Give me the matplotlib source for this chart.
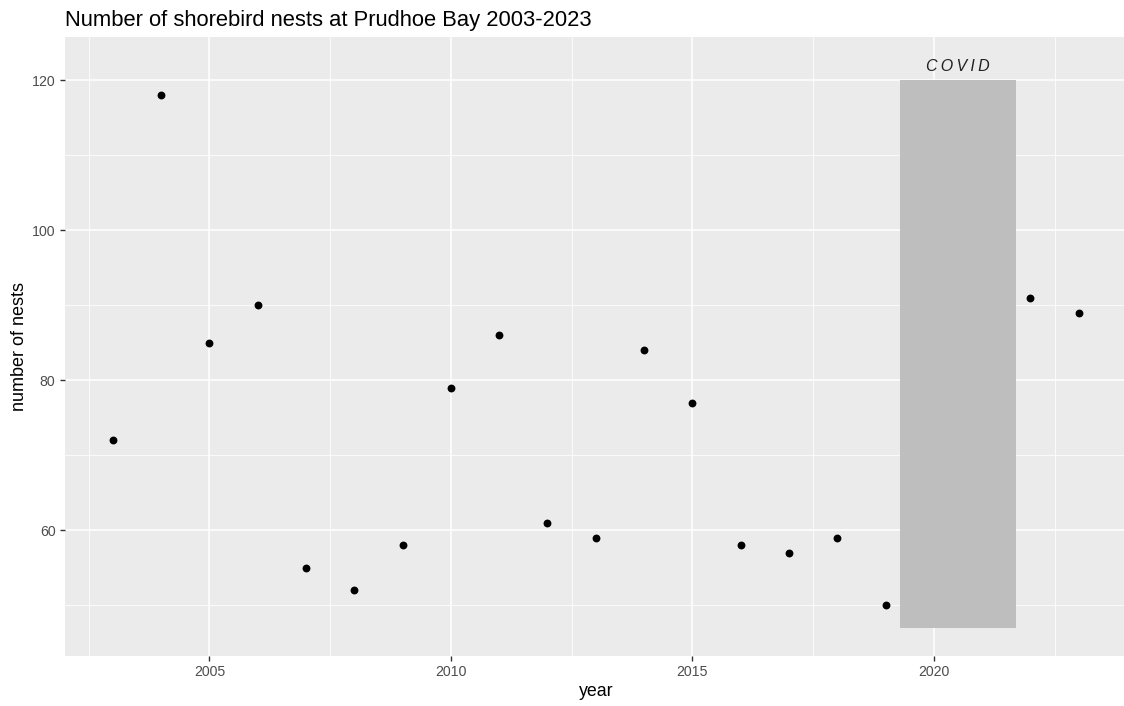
import matplotlib
matplotlib.use("Agg")
import matplotlib.pyplot as plt
from matplotlib.ticker import MultipleLocator

plt.rcParams['font.family'] = ['Liberation Sans', 'DejaVu Sans']

# nests per year (no survey 2020-2021)
years = [2003, 2004, 2005, 2006, 2007, 2008, 2009, 2010, 2011, 2012,
         2013, 2014, 2015, 2016, 2017, 2018, 2019, 2022, 2023]
nests = [72, 118, 85, 90, 55, 52, 58, 79, 86, 61,
         59, 84, 77, 58, 57, 59, 50, 91, 89]

# covid gap shading
covid_x = [2019.3, 2021.7]
covid_y = [47, 120]
covid_label = "COVID"

fig = plt.figure(figsize=(11.24, 7.06), dpi=100)
# panel runs slightly past the right edge, like the cropped original
ax = fig.add_axes([0.0574, 0.0708, 0.9453, 0.8768])
ax.set_facecolor('#EBEBEB')

ax.xaxis.set_major_locator(MultipleLocator(5))
ax.xaxis.set_minor_locator(MultipleLocator(2.5))
ax.yaxis.set_major_locator(MultipleLocator(20))
ax.yaxis.set_minor_locator(MultipleLocator(10))
ax.grid(which='major', color='white', linewidth=1.1)
ax.grid(which='minor', color='white', linewidth=0.55)
ax.set_axisbelow(True)
for s in ax.spines.values():
    s.set_visible(False)

ax.fill_between(covid_x, covid_y[0], covid_y[1], color='#BEBEBE', linewidth=0, zorder=2)
# original label is loosely letter-spaced
ax.text(sum(covid_x) / 2, 121.8, "\u2009".join(covid_label), ha='center', va='center',
        style='italic', fontsize=11.5, color='#222222', zorder=3)

ax.scatter(years, nests, s=32, color='black', zorder=4, linewidths=0)

ax.set_xlim(2002, 2024)
ax.set_ylim(43.25, 125.75)
ax.tick_params(which='major', length=3.5, width=1, color='#333333',
               labelsize=10.2, labelcolor='#4D4D4D', pad=3)
ax.tick_params(which='minor', length=0)

ax.set_xlabel('year', fontsize=12.8, color='black', labelpad=3)
ax.set_ylabel('number of nests', fontsize=13, color='black', labelpad=3)
ax.set_title('Number of shorebird nests at Prudhoe Bay 2003-2023', loc='left',
             fontsize=15.8, color='black', pad=8)

fig.savefig('out.png', dpi=100)
